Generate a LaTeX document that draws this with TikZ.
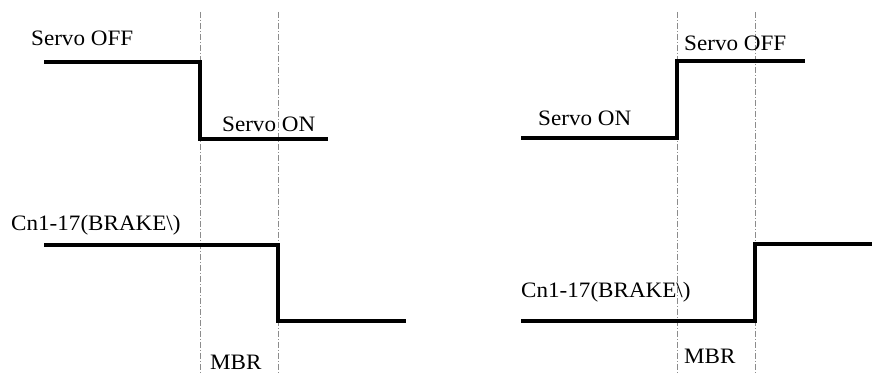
\documentclass[tikz,border=0pt]{standalone}
\usepackage{fontspec}
\setmainfont{Liberation Serif}[FakeStretch=1.05]
\begin{document}
\begin{tikzpicture}[x=1pt,y=1pt,
  guide/.style={draw=black!45, line width=0.7pt, dash pattern=on 6pt off 2pt on 1pt off 2pt},
  signal/.style={draw=black, line width=3.3pt, line join=miter, line cap=butt},
  lbl/.style={anchor=base west, inner sep=0pt, font=\fontsize{22}{24}\selectfont}]
\useasboundingbox (0,0) rectangle (872,374);
% guide lines
\coordinate (gA1) at (200,362); \coordinate (gA2) at (200,1);
\coordinate (gB1) at (278,362); \coordinate (gB2) at (278,1);
\coordinate (gC1) at (677,362); \coordinate (gC2) at (677,1);
\coordinate (gD1) at (755,362); \coordinate (gD2) at (755,1);
\draw[guide] (gA1) -- (gA2);
\draw[guide] (gB1) -- (gB2);
\draw[guide] (gC1) -- (gC2);
\draw[guide] (gD1) -- (gD2);
% left servo signal
\coordinate (s1) at (44,312); \coordinate (s2) at (200,312);
\coordinate (s3) at (200,235); \coordinate (s4) at (328,235);
\draw[signal] (s1) -- (s2) -- (s3) -- (s4);
% left brake signal
\coordinate (b1) at (44,129); \coordinate (b2) at (278,129);
\coordinate (b3) at (278,53); \coordinate (b4) at (406,53);
\draw[signal] (b1) -- (b2) -- (b3) -- (b4);
% right servo signal
\coordinate (r1) at (521,236); \coordinate (r2) at (677,236);
\coordinate (r3) at (677,313); \coordinate (r4) at (805,313);
\draw[signal] (r1) -- (r2) -- (r3) -- (r4);
% right brake signal
\coordinate (q1) at (521,53); \coordinate (q2) at (755,53);
\coordinate (q3) at (755,130); \coordinate (q4) at (872,130);
\draw[signal] (q1) -- (q2) -- (q3) -- (q4);
% labels
\node[lbl] (offL) at (31,328) {Servo OFF};
\node[lbl] (onL) at (222,242) {Servo ON};
\node[lbl] (brL) at (11,143) {Cn1-17(BRAKE\textbackslash)};
\node[lbl] (mbrL) at (210,4) {MBR};
\node[lbl] (offR) at (684,323) {Servo OFF};
\node[lbl] (onR) at (538,248) {Servo ON};
\node[lbl] (brR) at (521,76) {Cn1-17(BRAKE\textbackslash)};
\node[lbl] (mbrR) at (684,10) {MBR};
\end{tikzpicture}
\end{document}
